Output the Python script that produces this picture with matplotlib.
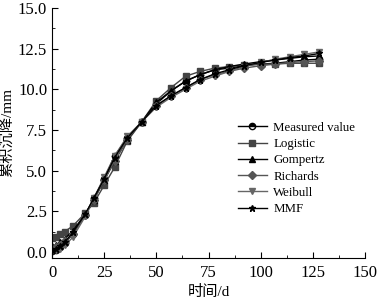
import matplotlib
matplotlib.use("Agg")
import matplotlib.pyplot as plt
from matplotlib.ticker import MultipleLocator

plt.rcParams['font.family'] = ['Liberation Serif', 'Noto Sans CJK SC']
plt.rcParams['axes.unicode_minus'] = False

days = [0, 2, 4, 6, 10, 16, 20, 25, 30, 36, 43, 50, 57, 64, 71, 78, 85, 92, 100, 107, 114, 121, 128]

measured = [0.05, 0.15, 0.3, 0.55, 1.1, 2.3, 3.3, 4.5, 5.9, 7.0, 8.0, 9.1, 9.9, 10.5, 10.9, 11.2,
            11.3, 11.45, 11.55, 11.6, 11.7, 11.8, 11.85]
logistic = [0.85, 0.95, 1.1, 1.25, 1.6, 2.4, 3.0, 4.1, 5.2, 6.8, 8.0, 9.3, 10.1, 10.8, 11.1, 11.3,
            11.4, 11.5, 11.55, 11.55, 11.6, 11.6, 11.6]
gompertz = [0.35, 0.45, 0.6, 0.8, 1.3, 2.35, 3.2, 4.4, 5.6, 6.9, 8.0, 9.2, 9.9, 10.5, 10.9, 11.2,
            11.4, 11.55, 11.7, 11.8, 11.9, 12.0, 12.05]
richards = [0.2, 0.3, 0.45, 0.65, 1.1, 2.3, 3.2, 4.4, 5.6, 6.9, 8.0, 9.0, 9.6, 10.1, 10.6, 10.9,
            11.1, 11.3, 11.45, 11.55, 11.65, 11.7, 11.75]
weibull = [0.05, 0.1, 0.2, 0.4, 0.9, 2.2, 3.3, 4.6, 5.9, 7.1, 8.0, 8.9, 9.5, 10.0, 10.5, 10.8,
           11.1, 11.4, 11.65, 11.85, 12.0, 12.15, 12.3]
mmf = [0.1, 0.2, 0.35, 0.6, 1.2, 2.35, 3.3, 4.5, 5.8, 7.0, 8.0, 9.0, 9.6, 10.1, 10.6, 10.95,
       11.2, 11.45, 11.65, 11.8, 11.95, 12.05, 12.2]

fig = plt.figure(figsize=(3.78, 3.02), dpi=100)
ax = fig.add_axes([0.1376, 0.1457, 0.828, 0.828])

ax.plot(days, measured, color='black', lw=1, marker='o', ms=4.5, fillstyle='top',
        markerfacecoloralt='white', mec='black', label='Measured value')
ax.plot(days, logistic, color='#444444', lw=1, marker='s', ms=4.5, label='Logistic')
ax.plot(days, gompertz, color='black', lw=1, marker='^', ms=4.5, label='Gompertz')
ax.plot(days, richards, color='#555555', lw=1, marker='D', ms=3.8, label='Richards')
ax.plot(days, weibull, color='#666666', lw=1, marker='v', ms=4.5, label='Weibull')
ax.plot(days, mmf, color='black', lw=1, marker='*', ms=5, label='MMF')

ax.set_xlim(0, 150)
ax.set_ylim(-0.37, 15)
ax.xaxis.set_major_locator(MultipleLocator(25))
ax.xaxis.set_minor_locator(MultipleLocator(12.5))
ax.yaxis.set_major_locator(MultipleLocator(2.5))
ax.yaxis.set_minor_locator(MultipleLocator(1.25))
ax.yaxis.set_major_formatter(plt.FormatStrFormatter('%.1f'))
ax.tick_params(which='both', direction='in', labelsize=12)
ax.tick_params(which='major', length=4)
ax.tick_params(axis='x', pad=5)
ax.tick_params(which='minor', length=2)
for s in ['top', 'right']:
    ax.spines[s].set_visible(False)

ax.set_xlabel('时间/d', fontsize=11)
ax.set_ylabel('累积沉降/mm', fontsize=11)
ax.yaxis.set_label_coords(-0.118, 0.5)
ax.xaxis.set_label_coords(0.5, -0.108)

ax.legend(loc='upper left', bbox_to_anchor=(0.595, 0.545), frameon=False, fontsize=9.3,
          borderpad=0, borderaxespad=0, labelspacing=0.33, handlelength=2.2, handletextpad=0.5)

fig.savefig('out.png', dpi=100)
